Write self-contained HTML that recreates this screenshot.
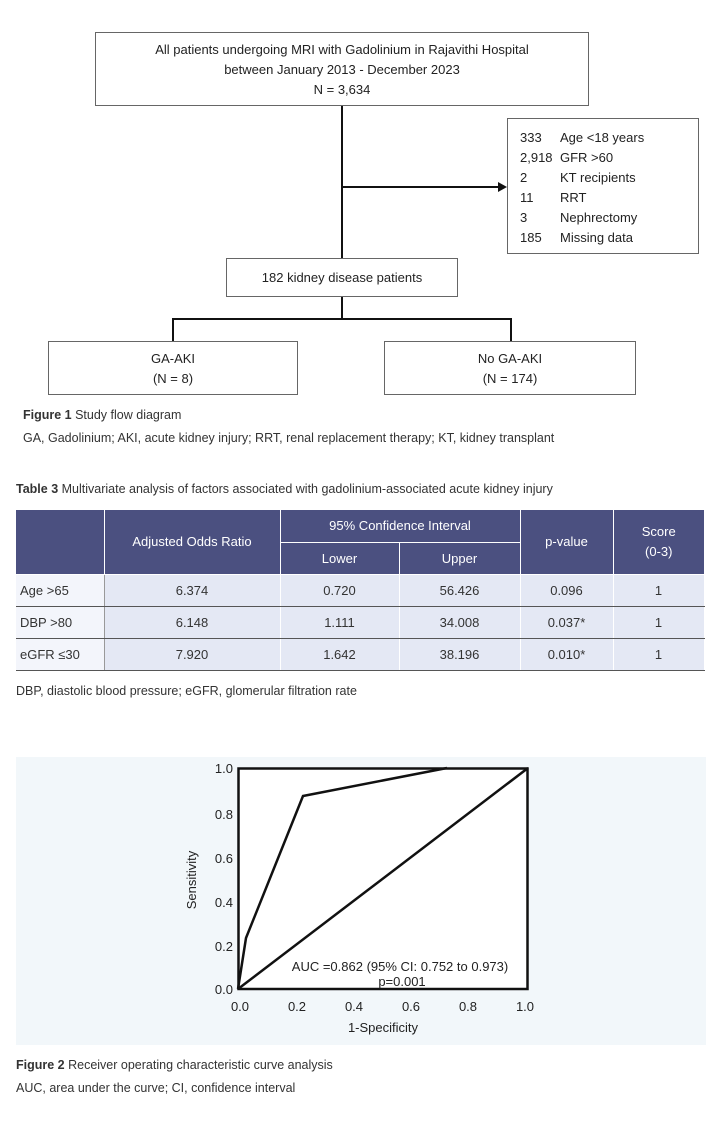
<!DOCTYPE html>
<html><head><meta charset="utf-8">
<style>
*{margin:0;padding:0;box-sizing:border-box}
body{width:718px;height:1137px;background:#fff;font-family:"Liberation Sans",sans-serif;color:#222;position:relative;overflow:hidden}
.a{position:absolute}
.box{position:absolute;border:1.3px solid #666;background:#fff;text-align:center;font-size:13px;line-height:20px}
.ln{position:absolute;background:#111}
.cap{position:absolute;font-size:12.5px;color:#333;white-space:nowrap}
table{position:absolute;left:16px;top:510px;border-collapse:collapse;font-size:13px}
td{text-align:center;height:32px;border-bottom:1.5px solid #555;border-right:1px solid #fff;background:#e4e8f4;color:#333}
td.f{text-align:left;padding-left:4px;background:#f3f5fb;border-right:1px solid #999}
th{background:#4b5080;color:#fff;font-weight:normal;border-right:1.5px solid #fff;border-bottom:1.5px solid #fff;font-size:13px}
.n{display:inline-block;width:40px}
</style></head><body>

<div class="box" style="left:95px;top:32px;width:494px;height:74px;padding-top:7px">All patients undergoing MRI with Gadolinium in Rajavithi Hospital<br>between January 2013 - December 2023<br>N = 3,634</div>
<div class="ln" style="left:341px;top:106px;width:2px;height:152px"></div>
<div class="ln" style="left:341px;top:186px;width:160px;height:2px"></div>
<div class="a" style="left:498px;top:182px;width:0;height:0;border-left:9px solid #111;border-top:5px solid transparent;border-bottom:5px solid transparent"></div>
<div class="box" style="left:507px;top:118px;width:192px;height:136px;text-align:left;padding:9px 0 0 12px;font-size:13px;line-height:20px">
<div><span class="n">333</span>Age &lt;18 years</div>
<div><span class="n">2,918</span>GFR &gt;60</div>
<div><span class="n">2</span>KT recipients</div>
<div><span class="n">11</span>RRT</div>
<div><span class="n">3</span>Nephrectomy</div>
<div><span class="n">185</span>Missing data</div>
</div>
<div class="box" style="left:226px;top:258px;width:232px;height:39px;line-height:37px">182 kidney disease patients</div>
<div class="ln" style="left:341px;top:297px;width:2px;height:22px"></div>
<div class="ln" style="left:172px;top:318px;width:340px;height:2px"></div>
<div class="ln" style="left:172px;top:318px;width:2px;height:23px"></div>
<div class="ln" style="left:510px;top:318px;width:2px;height:23px"></div>
<div class="box" style="left:48px;top:341px;width:250px;height:54px;padding-top:7px">GA-AKI<br>(N = 8)</div>
<div class="box" style="left:384px;top:341px;width:252px;height:54px;padding-top:7px">No GA-AKI<br>(N = 174)</div>

<div class="cap" style="left:23px;top:408px"><b>Figure 1</b> Study flow diagram</div>
<div class="cap" style="left:23px;top:431px">GA, Gadolinium; AKI, acute kidney injury; RRT, renal replacement therapy; KT, kidney transplant</div>

<div class="cap" style="left:16px;top:482px"><b>Table 3</b> Multivariate analysis of factors associated with gadolinium-associated acute kidney injury</div>
<table>
<colgroup><col style="width:88px"><col style="width:176px"><col style="width:119px"><col style="width:121px"><col style="width:93px"><col style="width:91px"></colgroup>
<tr><th rowspan="2" style="height:64px"></th><th rowspan="2">Adjusted Odds Ratio</th><th colspan="2" style="height:32px">95% Confidence Interval</th><th rowspan="2">p-value</th><th rowspan="2" style="border-right:none;line-height:20px">Score<br>(0-3)</th></tr>
<tr><th style="height:32px">Lower</th><th>Upper</th></tr>
<tr><td class="f">Age &gt;65</td><td>6.374</td><td>0.720</td><td>56.426</td><td>0.096</td><td>1</td></tr>
<tr><td class="f">DBP &gt;80</td><td>6.148</td><td>1.111</td><td>34.008</td><td>0.037*</td><td>1</td></tr>
<tr><td class="f">eGFR ≤30</td><td>7.920</td><td>1.642</td><td>38.196</td><td>0.010*</td><td>1</td></tr>
</table>
<div class="cap" style="left:16px;top:684px">DBP, diastolic blood pressure; eGFR, glomerular filtration rate</div>

<svg class="a" style="left:0;top:0" width="718" height="1137">
<rect x="16" y="757" width="690" height="288" fill="#f2f7fa"/>
<rect x="238.5" y="768.5" width="289" height="220.5" fill="#fff" stroke="#111" stroke-width="2.5"/>
<polyline points="238,989 246,938 303,796 447,768" fill="none" stroke="#111" stroke-width="2.5"/>
<line x1="238" y1="989" x2="528" y2="768" stroke="#111" stroke-width="2.5"/>
<g font-family="Liberation Sans,sans-serif" font-size="13" fill="#222">
<g text-anchor="end">
<text x="233" y="773">1.0</text><text x="233" y="819">0.8</text><text x="233" y="863">0.6</text><text x="233" y="907">0.4</text><text x="233" y="951">0.2</text><text x="233" y="994">0.0</text>
</g>
<g text-anchor="middle">
<text x="240" y="1011">0.0</text><text x="297" y="1011">0.2</text><text x="354" y="1011">0.4</text><text x="411" y="1011">0.6</text><text x="468" y="1011">0.8</text><text x="525" y="1011">1.0</text>
<text x="383" y="1032">1-Specificity</text>
<text x="400" y="971">AUC =0.862 (95% CI: 0.752 to 0.973)</text>
<text x="402" y="986">p=0.001</text>
<text transform="translate(196,880) rotate(-90)">Sensitivity</text>
</g>
</g>
</svg>

<div class="cap" style="left:16px;top:1058px"><b>Figure 2</b> Receiver operating characteristic curve analysis</div>
<div class="cap" style="left:16px;top:1081px">AUC, area under the curve; CI, confidence interval</div>
</body></html>
